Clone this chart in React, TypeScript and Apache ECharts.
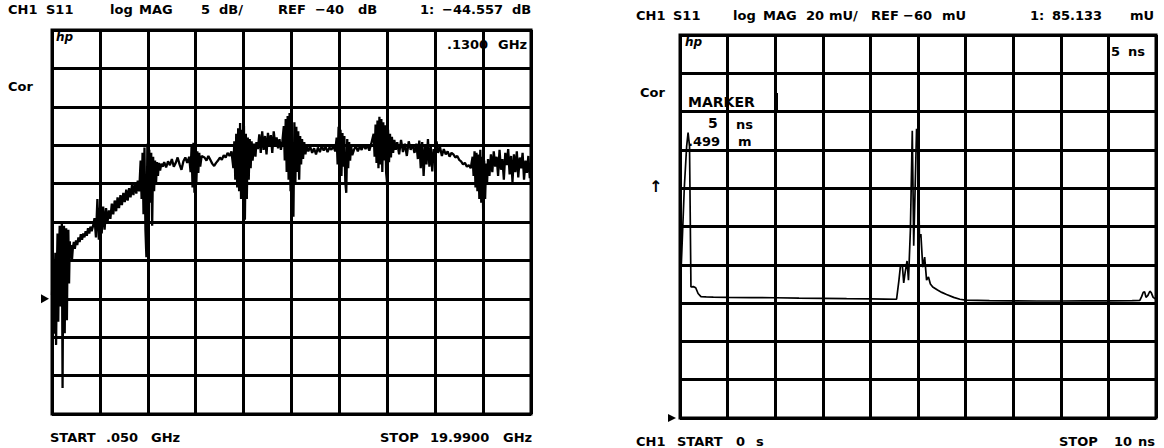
import React, { useEffect, useRef } from "react";
import * as echarts from "echarts";

// ---------- data ----------
// Left: S11 log MAG, 5 dB/div, REF -40 dB, 0.050 .. 19.99 GHz  [GHz, dB]
const s11FreqTrace: number[][] = [
  [0.05,-39.5],[0.08,-36],[0.11,-42],[0.13,-44.56],[0.16,-38],[0.19,-34],[0.22,-46],[0.25,-37],[0.28,-31.5],[0.31,-43],
  [0.34,-35],[0.37,-30.5],[0.40,-41],[0.43,-34],[0.46,-30.1],[0.49,-51.6],[0.52,-33],[0.55,-30.5],[0.58,-44.5],[0.61,-32],
  [0.64,-30.8],[0.67,-42.8],[0.70,-33],[0.73,-31],[0.76,-38],[0.79,-32.5],[0.82,-34.5],[0.85,-33],[0.88,-35],[0.92,-33.3],
  [0.96,-32.6],[1.0,-33.5],[1.05,-32.4],[1.1,-33],[1.15,-32],[1.2,-32.6],[1.25,-31.6],[1.3,-32.3],[1.35,-31.5],[1.4,-32],
  [1.45,-31.2],[1.5,-31.8],[1.55,-30.8],[1.6,-31.5],[1.65,-30.6],[1.7,-31.2],[1.76,-30.5],
  [1.82,-29.5],[1.88,-32],[1.94,-27],[2.0,-32.3],[2.06,-27.5],[2.12,-31.5],[2.18,-28],[2.24,-31],[2.3,-28.2],[2.36,-30],
  [2.42,-28.5],[2.48,-29.6],[2.54,-27.6],[2.6,-29],[2.66,-27.2],[2.72,-28.6],[2.78,-26.8],[2.84,-28.2],[2.9,-26.5],[2.96,-27.8],
  [3.02,-26.2],[3.08,-27.4],[3.14,-25.8],[3.2,-27.2],[3.26,-25.6],[3.32,-26.8],[3.38,-25.2],[3.44,-26.5],[3.5,-24.8],[3.56,-26.3],
  [3.62,-24.6],[3.68,-26],
  [3.74,-22],[3.78,-27],[3.82,-21],[3.86,-29],[3.9,-20.3],[3.94,-31],[3.98,-34.6],[4.02,-19.8],[4.06,-29],[4.1,-20.6],
  [4.14,-27.5],[4.18,-21],[4.22,-30.5],[4.26,-21.5],[4.3,-26],[4.34,-22],[4.38,-25],[4.42,-22.2],[4.46,-24],[4.5,-22.3],
  [4.55,-23.3],[4.6,-22.4],[4.66,-22.8],
  [4.72,-22.2],[4.8,-22.9],[4.88,-22.1],[4.96,-22.6],[5.04,-21.8],[5.12,-22.8],[5.2,-22.3],[5.28,-21.6],[5.36,-22.5],[5.44,-23.2],
  [5.52,-22.1],[5.6,-21.6],[5.68,-22.3],[5.76,-21.5],
  [5.82,-23.5],[5.86,-20.2],[5.9,-25.5],[5.94,-19.7],[5.98,-26.2],[6.02,-20.4],[6.06,-24.8],[6.1,-20.8],[6.14,-23.6],[6.18,-21],
  [6.22,-22.8],[6.28,-21.4],
  [6.4,-21.6],[6.48,-22],[6.56,-21.4],[6.64,-21.9],[6.72,-22.4],[6.8,-22.7],[6.88,-22.3],[6.96,-22],[7.04,-21.6],[7.12,-21.9],
  [7.2,-21.3],[7.28,-21.6],[7.36,-21],[7.44,-21.4],[7.52,-20.8],
  [7.6,-23],[7.64,-19.5],[7.68,-24.5],[7.72,-18.5],[7.76,-25.5],[7.8,-17.8],[7.84,-26],[7.88,-17.1],[7.92,-27],[7.96,-18],
  [8.0,-25],[8.04,-17.5],[8.08,-29.7],[8.12,-18.5],[8.16,-27],[8.2,-19],[8.24,-24.5],[8.28,-19.2],[8.32,-23],[8.36,-19.5],
  [8.4,-22],[8.46,-19.8],[8.52,-21.5],[8.56,-19.6],
  [8.62,-20.5],[8.68,-18.6],[8.74,-21],[8.8,-18.2],[8.86,-20.6],[8.92,-18.8],[8.98,-21.2],[9.04,-18.4],[9.1,-20.2],[9.16,-18.7],
  [9.22,-21],[9.28,-18.2],[9.34,-19.9],[9.4,-19],[9.46,-20.4],[9.52,-19.2],[9.58,-20.6],[9.64,-19.5],
  [9.7,-17.5],[9.74,-22],[9.78,-16.6],[9.82,-23.5],[9.86,-16.2],[9.9,-24.5],[9.94,-15.8],[9.98,-26],[10.02,-16.4],[10.06,-27.2],
  [10.1,-29.3],[10.14,-17],[10.18,-25],[10.22,-17.6],[10.26,-23.5],[10.3,-18.2],[10.34,-24.5],[10.38,-18.8],[10.42,-22.5],[10.46,-19.2],
  [10.5,-21.8],[10.55,-19.6],[10.6,-21.2],[10.65,-20],
  [10.72,-20.8],[10.8,-20.2],[10.88,-21],[10.96,-20.4],[11.04,-21.2],[11.12,-20.3],[11.2,-20.9],[11.28,-20.1],[11.36,-20.7],[11.44,-20.2],
  [11.52,-20.9],[11.6,-20.3],[11.68,-20.6],[11.76,-20.1],[11.84,-20.8],
  [11.9,-19],[11.94,-22.5],[11.98,-17.6],[12.02,-23.5],[12.06,-18],[12.1,-24],[12.14,-18.4],[12.18,-22.8],[12.22,-18.8],[12.26,-24.8],
  [12.3,-26.2],[12.34,-19.2],[12.38,-23],[12.42,-19.6],[12.46,-22],[12.5,-20],[12.55,-21.3],
  [12.62,-20.6],[12.7,-20.1],[12.78,-20.8],[12.86,-20.2],[12.94,-20.6],[13.02,-19.9],[13.1,-20.5],[13.18,-20],[13.26,-20.7],[13.34,-19.8],
  [13.44,-18.5],[13.48,-21.5],[13.52,-17.3],[13.56,-22.3],[13.6,-16.8],[13.64,-23],[13.68,-16.3],[13.72,-22.5],[13.76,-16.6],[13.8,-23.5],
  [13.84,-17],[13.88,-22],[13.92,-17.4],[13.96,-23.6],[14.0,-24.9],[14.04,-18],[14.08,-22.2],[14.12,-18.5],[14.16,-21.6],[14.2,-18.9],
  [14.25,-21],[14.3,-19.3],[14.36,-20.6],
  [14.42,-19.6],[14.5,-21.2],[14.58,-19.3],[14.66,-20.9],[14.74,-19.8],[14.82,-21.4],[14.9,-19.5],[14.98,-20.6],[15.06,-19.9],[15.14,-21],
  [15.22,-19.8],
  [15.28,-21.8],[15.34,-19.4],[15.4,-23],[15.46,-19.6],[15.52,-24],[15.58,-20],[15.64,-22.5],[15.7,-19.2],[15.76,-22.8],[15.82,-20.2],
  [15.88,-23.4],[15.94,-20.5],[16.0,-21.6],[16.06,-19.5],[16.12,-21],[16.2,-20.2],[16.28,-21.4],[16.36,-20.5],[16.44,-21.2],[16.52,-20.8],
  [16.6,-21.5],[16.68,-21],
  [16.76,-21.2],[16.84,-21.6],[16.92,-21.4],[17.0,-21.9],[17.08,-22.1],[17.16,-22.5],[17.24,-22.3],[17.32,-22.8],[17.4,-22.6],[17.48,-23],
  [17.56,-21.5],[17.6,-24],[17.64,-20.8],[17.68,-25.5],[17.72,-21],[17.76,-26],[17.8,-21.2],[17.84,-27],[17.88,-20.6],[17.92,-27.5],
  [17.96,-21.5],[18.0,-28.8],[18.04,-22],[18.08,-27],[18.12,-22.4],[18.16,-25],[18.2,-21.8],[18.26,-24],
  [18.32,-21.2],[18.38,-23.5],[18.44,-20.8],[18.5,-22.8],[18.56,-21.5],[18.62,-24],[18.68,-20.6],[18.74,-23.2],[18.8,-21.8],[18.86,-24.5],
  [18.92,-21],[18.98,-22.6],[19.04,-20.5],[19.1,-23.8],[19.16,-21.4],[19.22,-24.8],[19.28,-21.2],[19.34,-23.5],[19.4,-20.8],[19.46,-24.2],
  [19.52,-21.6],[19.58,-23],[19.64,-21],[19.7,-24.5],[19.76,-22],[19.82,-23.6],[19.88,-21.4],[19.94,-24.3],[19.99,-22.4],
];

// Right: time domain, 20 mU/div, REF -60 mU, 0 .. 10 ns  [ns, mU]
const s11TimeTrace: number[][] = [
  [0,4],[0.04,28],[0.09,60],[0.14,82],[0.17,89],[0.2,82],[0.23,8.4],[0.28,8.6],[0.33,8],[0.38,5],
  [0.44,3.4],[0.55,3.2],[0.7,3.1],[1,3],[1.5,2.9],[2,2.8],[2.5,2.6],[3,2.5],[3.5,2.3],[4,2.2],
  [4.3,2.1],[4.55,2],[4.6,12],[4.63,19],[4.67,20],[4.7,10.5],[4.73,16],[4.77,22],[4.8,12],[4.84,38],
  [4.88,90],[4.91,30],[4.94,60],[4.97,91],[5.0,85.133],[5.03,34.5],[5.06,36],[5.1,18.8],[5.14,24],[5.18,12],
  [5.22,13.6],[5.26,10],[5.31,8.4],[5.41,6.8],[5.5,5.6],[5.6,4.5],[5.75,3],[5.88,2],[6,1.6],[6.5,1.3],
  [7,1.2],[7.5,1.1],[8,1.1],[8.5,1.2],[9,1.2],[9.5,1.3],[9.66,1.4],[9.7,3.5],[9.73,5.5],[9.76,6],
  [9.79,3],[9.83,4],[9.87,6.2],[9.9,5.5],[9.94,3],[10,2],
];

const freqRange = [0.05, 19.99];
const timeRange = [0, 10];
const dbAxis = { min: -55, max: -5, step: 5, ref: -40 };
const muAxis = { min: -60, max: 140, step: 20, ref: -60 };
const divisions = 10;

const leftHeader: [string, number][] = [
  ["CH1", 8], ["S11", 46], ["log", 110], ["MAG", 139], ["5", 201], ["dB/", 219],
  ["REF", 278], ["\u221240", 315], ["dB", 358], ["1:", 420], ["\u221244.557", 442], ["dB", 512],
];
const leftFooter: [string, number][] = [
  ["START", 50], [".050", 106], ["GHz", 151], ["STOP", 380], ["19.9900", 430], ["GHz", 503],
];
const rightHeader: [string, number][] = [
  ["CH1", 636], ["S11", 673], ["log", 733], ["MAG", 763], ["20", 806], ["mU/", 829],
  ["REF", 871], ["\u221260", 903], ["mU", 942], ["1:", 1030], ["85.133", 1052], ["mU", 1130],
];
const rightFooter: [string, number][] = [
  ["CH1", 636], ["START", 677], ["0", 736], ["s", 756], ["STOP", 1059], ["10", 1114], ["ns", 1138],
];

const FONT = 'bold 13px "DejaVu Sans"';

function txt(text: string, x: number, y: number, font = FONT) {
  return {
    type: "text",
    x,
    y,
    silent: true,
    style: { text, font, fill: "#000", align: "left", verticalAlign: "middle" },
  };
}

export default function App() {
  const ref = useRef<HTMLDivElement>(null);
  useEffect(() => {
    if (!ref.current) return;
    const chart = echarts.init(ref.current, undefined, { renderer: "svg" });
    const gridLine = { show: true, lineStyle: { color: "#000", width: 3 } };
    const hiddenBits = {
      axisLabel: { show: false },
      axisTick: { show: false },
      axisLine: { show: false },
    };
    chart.setOption({
      animation: false,
      backgroundColor: "#fff",
      grid: [
        { left: 52, top: 30, width: 479, height: 384, show: true, borderColor: "#000", borderWidth: 3, backgroundColor: "transparent" },
        { left: 680, top: 35, width: 476, height: 383, show: true, borderColor: "#000", borderWidth: 3, backgroundColor: "transparent" },
      ],
      xAxis: [
        { type: "value", gridIndex: 0, min: 0, max: divisions, interval: 1, splitLine: gridLine, ...hiddenBits },
        { type: "value", gridIndex: 0, min: freqRange[0], max: freqRange[1], show: false, splitLine: { show: false } },
        { type: "value", gridIndex: 1, min: timeRange[0], max: timeRange[1], interval: (timeRange[1] - timeRange[0]) / divisions, splitLine: gridLine, ...hiddenBits },
      ],
      yAxis: [
        { type: "value", gridIndex: 0, min: dbAxis.min, max: dbAxis.max, interval: dbAxis.step, splitLine: gridLine, ...hiddenBits },
        { type: "value", gridIndex: 1, min: muAxis.min, max: muAxis.max, interval: muAxis.step, splitLine: gridLine, ...hiddenBits },
      ],
      series: [
        {
          type: "line", xAxisIndex: 1, yAxisIndex: 0, data: s11FreqTrace, showSymbol: false,
          lineStyle: { color: "#000", width: 2.3 }, clip: true, silent: true,
        },
        {
          type: "line", xAxisIndex: 2, yAxisIndex: 1, data: s11TimeTrace, showSymbol: false,
          lineStyle: { color: "#000", width: 1.7 }, clip: true, silent: true,
        },
      ],
    });

    const [lx, ly] = chart.convertToPixel({ xAxisIndex: 1, yAxisIndex: 0 }, [freqRange[0], dbAxis.ref]) as number[];
    const [rx, ry] = chart.convertToPixel({ xAxisIndex: 2, yAxisIndex: 1 }, [timeRange[0], muAxis.ref]) as number[];

    const graphic: any[] = [];
    leftHeader.forEach(([t, x]) => graphic.push(txt(t, x, 9)));
    leftFooter.forEach(([t, x]) => graphic.push(txt(t, x, 437)));
    rightHeader.forEach(([t, x]) => graphic.push(txt(t, x, 15)));
    rightFooter.forEach(([t, x]) => graphic.push(txt(t, x, 441)));
    // left annotations
    graphic.push(txt("hp", 56, 37, 'italic bold 12px "DejaVu Sans"'));
    graphic.push(txt(".1300", 447, 44));
    graphic.push(txt("GHz", 498, 44));
    graphic.push(txt("Cor", 8, 86));
    // right annotations
    graphic.push(txt("hp", 685, 42, 'italic bold 12px "DejaVu Sans"'));
    graphic.push(txt("5", 1111, 51));
    graphic.push(txt("ns", 1128, 51));
    graphic.push(txt("Cor", 640, 92));
    graphic.push(txt("MARKER", 688, 102, 'bold 14px "DejaVu Sans"'));
    graphic.push(txt("5", 708, 123, 'bold 14px "DejaVu Sans"'));
    graphic.push(txt("ns", 736, 124));
    graphic.push(txt(".499", 688, 141));
    graphic.push(txt("m", 738, 141));
    graphic.push({ type: "line", silent: true, shape: { x1: 777, y1: 93, x2: 777, y2: 110 }, style: { stroke: "#000", lineWidth: 2 } });
    graphic.push(txt("\u2191", 649, 186, 'bold 16px "DejaVu Sans"'));
    // reference position markers
    graphic.push({
      type: "polygon", silent: true,
      shape: { points: [[lx - 11, ly - 4.5], [lx - 3, ly], [lx - 11, ly + 4.5]] },
      style: { fill: "#000" },
    });
    graphic.push({
      type: "polygon", silent: true,
      shape: { points: [[rx - 12, ry - 4], [rx - 4, ry], [rx - 12, ry + 4]] },
      style: { fill: "#000" },
    });
    chart.setOption({ graphic });

    return () => chart.dispose();
  }, []);
  return (
    <div
      ref={ref}
      style={{ position: "fixed", left: 0, top: 0, width: 1164, height: 448, background: "#fff" }}
    />
  );
}
